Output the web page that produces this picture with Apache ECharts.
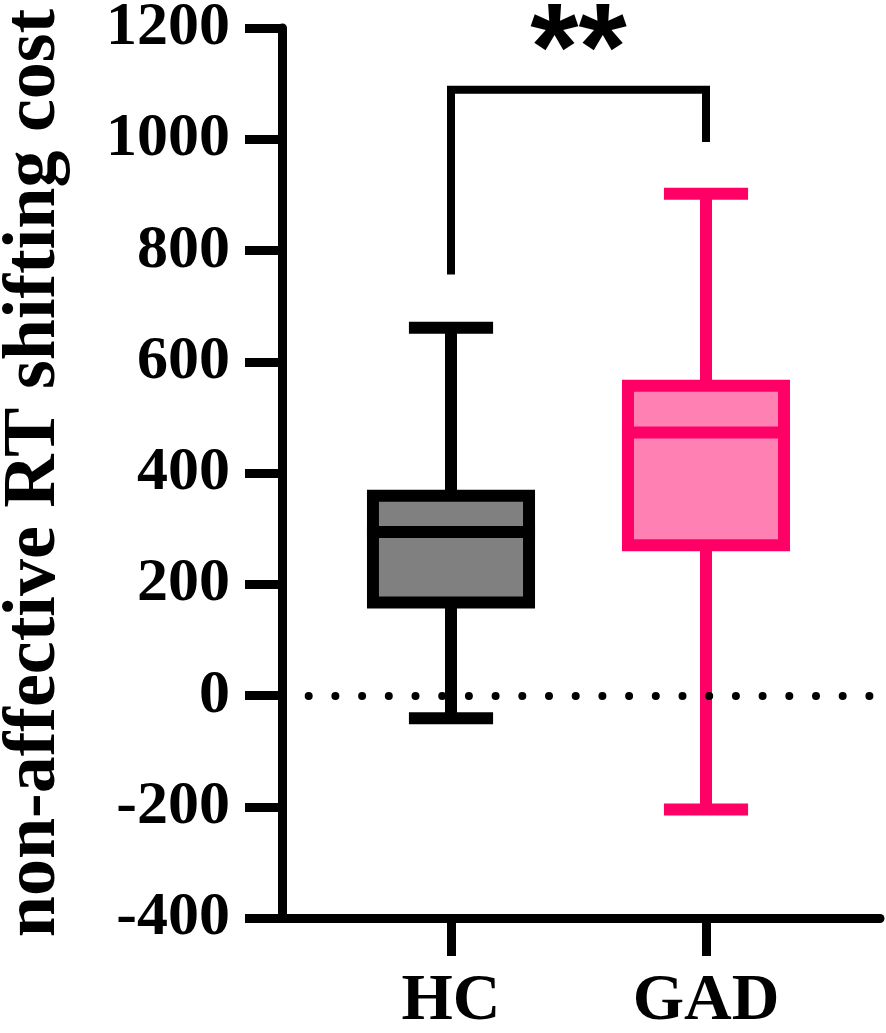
<!DOCTYPE html>
<html><head><meta charset="utf-8">
<script src="https://cdn.jsdelivr.net/npm/echarts@6/dist/echarts.min.js"></script>
<style>html,body{margin:0;padding:0;background:#fff}#c{width:886px;height:1033px}</style>
</head><body><div id="c"></div>
<script>
// ---- data ----
const categories = ['HC', 'GAD'];
const whiskerLow = [-41, -205];
const quartile1 = [167, 270];
const medians = [294, 473];
const quartile3 = [359, 557];
const whiskerHigh = [661, 902];
const yTickValues = [-400, -200, 0, 200, 400, 600, 800, 1000, 1200];
const sigPair = [1, 2];            // category positions compared
const sigLegEnds = [757, 995];     // bottom ends of bracket legs
const sigTop = [1089];             // bracket height
const sigText = '**';
const sigTextLevel = [1150];
const refLine = [0];

// ---- styles ----
const strokeColors = ['#000000', '#FF0066'];
const fillColors = ['#808080', '#FF80B3'];
const SERIF = '"Liberation Serif", "Times New Roman", serif';

const chart = echarts.init(document.getElementById('c'), null, {renderer: 'canvas'});

const boxData = categories.map((c, i) => [i + 1, whiskerLow[i], quartile1[i], medians[i], quartile3[i], whiskerHigh[i]]);
const bracketData = [[sigPair[0], sigPair[1], sigLegEnds[0], sigLegEnds[1], sigTop[0], sigTextLevel[0]]];

const BOX_W = 0.612, CAP_W = 0.33, LW = 12;

function renderBox(params, api) {
  const x = api.value(0);
  const pLo = api.coord([x, api.value(1)]);
  const pA = api.coord([x, api.value(2)]);
  const pM = api.coord([x, api.value(3)]);
  const pB = api.coord([x, api.value(4)]);
  const pHi = api.coord([x, api.value(5)]);
  const cx = pA[0];
  const half = api.size([BOX_W, 0])[0] / 2;
  const capHalf = api.size([CAP_W, 0])[0] / 2;
  const i = params.dataIndex;
  const ls = {stroke: strokeColors[i], lineWidth: LW, lineCap: 'butt'};
  return {
    type: 'group',
    children: [
      {type: 'line', shape: {x1: cx, y1: pB[1], x2: cx, y2: pHi[1]}, style: ls},
      {type: 'line', shape: {x1: cx, y1: pA[1], x2: cx, y2: pLo[1]}, style: ls},
      {type: 'line', shape: {x1: cx - capHalf, y1: pHi[1], x2: cx + capHalf, y2: pHi[1]}, style: ls},
      {type: 'line', shape: {x1: cx - capHalf, y1: pLo[1], x2: cx + capHalf, y2: pLo[1]}, style: ls},
      {type: 'rect', shape: {x: cx - half, y: pB[1], width: 2 * half, height: pA[1] - pB[1]},
        style: {fill: fillColors[i], stroke: strokeColors[i], lineWidth: LW, lineJoin: 'miter'}},
      {type: 'line', shape: {x1: cx - half - LW / 2, y1: pM[1], x2: cx + half + LW / 2, y2: pM[1]}, style: ls}
    ]
  };
}

function renderBracket(params, api) {
  const x1 = api.value(0), x2 = api.value(1);
  const p1 = api.coord([x1, api.value(2)]);
  const p2 = api.coord([x1, api.value(4)]);
  const p3 = api.coord([x2, api.value(4)]);
  const p4 = api.coord([x2, api.value(3)]);
  const pt = api.coord([(x1 + x2) / 2, api.value(5)]);
  return {
    type: 'group',
    children: [
      {type: 'polyline', shape: {points: [p1, p2, p3, p4]},
        style: {stroke: '#000', lineWidth: 8, fill: null, lineJoin: 'miter', lineCap: 'butt'}},
      {type: 'text', x: pt[0], y: pt[1],
        style: {text: sigText, fill: '#000', font: 'bold 124px "Liberation Sans", Arial, sans-serif',
          align: 'center', verticalAlign: 'middle'}}
    ]
  };
}

const option = {
  backgroundColor: '#fff',
  animation: false,
  grid: {left: 282, right: 6, top: 28, bottom: 115, containLabel: false, outerBoundsMode: 'none'},
  xAxis: {
    type: 'value', min: 1 - 169 / 255, max: 2 + 174 / 255,
    splitLine: {show: false},
    axisLine: {show: true, onZero: false, lineStyle: {color: '#000', width: 9}},
    axisTick: {show: true, customValues: [1, 2], length: 38, lineStyle: {color: '#000', width: 9}},
    axisLabel: {show: true, customValues: [1, 2], margin: 51,
      formatter: v => categories[Math.round(v) - 1] || '',
      color: '#000', fontFamily: SERIF, fontWeight: 'bold', fontSize: 66}
  },
  yAxis: {
    type: 'value', min: yTickValues[0], max: yTickValues[yTickValues.length - 1], interval: 200,
    name: 'non-affective RT shifting cost', nameLocation: 'middle', nameGap: 210, nameRotate: 90,
    nameTextStyle: {color: '#000', fontFamily: SERIF, fontWeight: 'bold', fontSize: 74},
    splitLine: {show: false},
    axisLine: {show: true, onZero: false, lineStyle: {color: '#000', width: 9}},
    axisTick: {show: true, length: 37, lineStyle: {color: '#000', width: 9}},
    axisLabel: {margin: 52, color: '#000', fontFamily: SERIF, fontWeight: 'bold', fontSize: 62,
      formatter: v => String(v)}
  },
  series: [
    {
      type: 'custom', renderItem: renderBox, data: boxData,
      encode: {x: 0, y: [1, 2, 3, 4, 5]}, z: 3,
      markLine: {
        silent: true, symbol: ['none', 'none'], z: 5,
        label: {show: false},
        lineStyle: {color: '#000', width: 8, type: [0, 26.7], cap: 'round'},
        emphasis: {disabled: true},
        data: refLine.map(v => ({yAxis: v}))
      }
    },
    {
      type: 'custom', renderItem: renderBracket, data: bracketData,
      encode: {x: [0, 1], y: [2, 3, 4]}, z: 4
    }
  ]
};
chart.setOption(option);
</script>
</body></html>
